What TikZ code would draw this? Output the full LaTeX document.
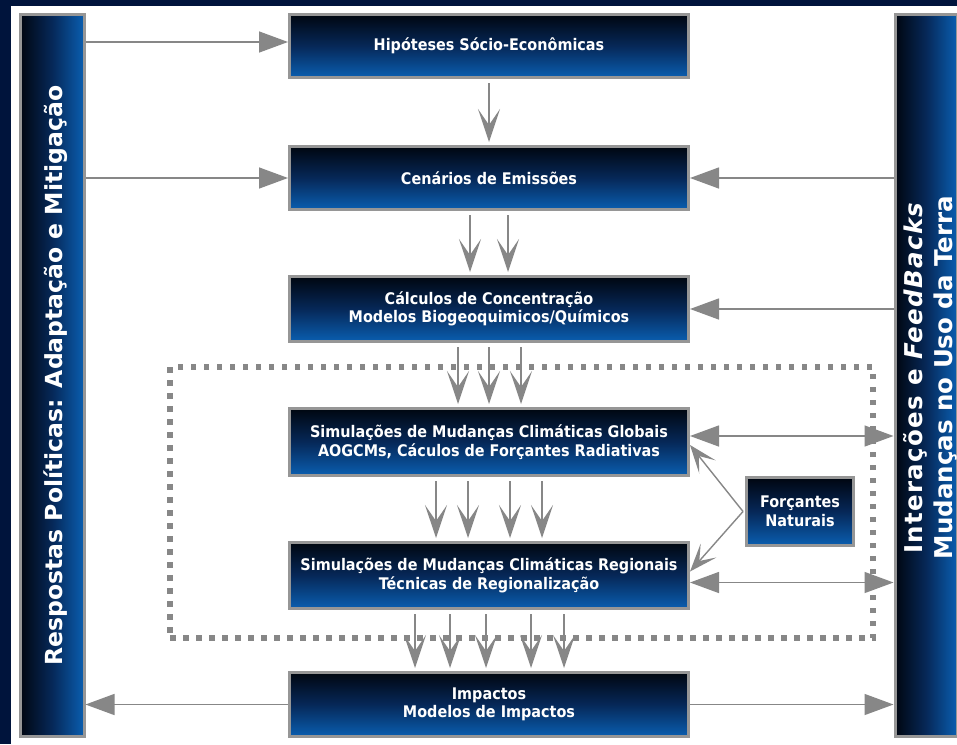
\documentclass[tikz,border=0pt]{standalone}
\usepackage{fontspec}
\setmainfont{DejaVu Sans}
\newfontfamily\boxfont{DejaVu Sans}[FakeStretch=0.9]
\newfontfamily\spacedfont{DejaVu Sans}[LetterSpace=5.5]
\usetikzlibrary{arrows.meta,calc}
\definecolor{navy}{RGB}{0,20,60}
\definecolor{boxtop}{RGB}{0,6,16}
\definecolor{boxmid}{RGB}{6,40,88}
\definecolor{boxbot}{RGB}{10,94,176}
\definecolor{framegray}{RGB}{150,150,150}
\definecolor{arrgray}{RGB}{135,135,135}
\tikzset{
  mbox/.style={draw=framegray, line width=3pt, top color=boxtop, bottom color=boxbot, middle color=boxmid,
    text=white, font=\boxfont\fontsize{16}{18.5}\selectfont\bfseries, align=center, inner sep=0pt,
    minimum width=399},
  vbar/.style={draw=framegray, line width=3pt, left color=boxtop, right color=boxbot, middle color=boxmid,
    inner sep=0pt, minimum height=722},
  bartext/.style={text=white, inner sep=0pt, font=\bfseries},
  dotbox/.style={draw=arrgray, line width=5.5pt, dash pattern=on 5.5pt off 7.5pt},
  harr/.style={draw=arrgray, line width=1.4pt, -{Triangle[length=29pt,width=21pt]}},
  darr/.style={draw=arrgray, line width=1.4pt, {Triangle[length=29pt,width=21pt]}-{Triangle[length=29pt,width=21pt]}},
  varr/.style={draw=arrgray, line width=1.4pt, -{Stealth[length=33pt,width=22pt,inset=16pt]}, shorten <=4pt, shorten >=3pt},
  farr/.style={draw=arrgray, line width=1.4pt, -{Stealth[length=28pt,width=21pt,inset=14pt]}},
}
\begin{document}
\begin{tikzpicture}[x=1pt,y=-1pt]
\useasboundingbox (0,0) rectangle (957,744);
\fill[navy] (0,0) rectangle (957,744);
\fill[white] (11,6) rectangle (957,744);

% dotted frame
\node[dotbox, minimum width=703, minimum height=271] (D) at (521.5,502.5) {};

% side bars
\node[vbar, minimum width=64] (L) at (52,375.5) {};
\node[bartext, font=\fontsize{23.5}{29}\selectfont\bfseries] (Lt) at ([xshift=4pt]L.center)
  {\rotatebox{90}{Respostas Políticas: Adaptação e Mitigação}};
\node[vbar, minimum width=62] (R) at (926,375.5) {};
\node[bartext, font=\fontsize{24.5}{30}\selectfont\bfseries] (Rt) at ([xshift=5pt,yshift=-2pt]R.center)
  {\rotatebox{90}{\begin{tabular}{@{}c@{}}{\spacedfont Interações e \textit{FeedBacks}}\\ Mudanças no Uso da Terra\end{tabular}}};

% main boxes
\node[mbox, minimum height=63] (H) at (489,46) {Hipóteses Sócio-Econômicas};
\node[mbox, minimum height=63] (C) at (489,178) {Cenários de Emissões};
\node[mbox, minimum height=65] (K) at (489,309) {Cálculos de Concentração\\Modelos Biogeoquimicos/Químicos};
\node[mbox, minimum height=67] (G) at (489,442) {Simulações de Mudanças Climáticas Globais\\AOGCMs, Cáculos de Forçantes Radiativas};
\node[mbox, minimum height=66] (Rg) at (489,575.5) {Simulações de Mudanças Climáticas Regionais\\Técnicas de Regionalização};
\node[mbox, minimum height=64] (I) at (489,704.5) {Impactos\\Modelos de Impactos};
\node[mbox, minimum width=107, minimum height=68] (F) at (800,511.5) {Forçantes\\Naturais};

% horizontal connectors
\coordinate (h1) at ([yshift=4pt]H.west);
\draw[harr] (L.east |- h1) -- (h1);
\draw[harr] (L.east |- C.west) -- (C.west);
\draw[harr] (R.west |- C.east) -- (C.east);
\draw[harr] (R.west |- K.east) -- (K.east);
\coordinate (g1) at ([yshift=6pt]G.east);
\draw[darr] (g1) -- (R.west |- g1);
\coordinate (r1) at ([yshift=-7pt]Rg.east);
\draw[darr] (r1) -- (R.west |- r1);
\draw[harr] (I.east) -- (R.west |- I.east);
\draw[harr] (I.west) -- (L.east |- I.west);

% vertical connectors
\draw[varr] (H.south) -- (C.north);
\foreach \dx in {-19,19}
  \draw[varr] ([xshift=\dx pt]C.south) -- ([xshift=\dx pt]K.north);
\foreach \dx in {-31,0,32}
  \draw[varr] ([xshift=\dx pt]K.south) -- ([xshift=\dx pt]G.north);
\foreach \dx in {-53,-21,21,53}
  \draw[varr] ([xshift=\dx pt]G.south) -- ([xshift=\dx pt]Rg.north);
\foreach \dx in {-74,-39,-3,42,75}
  \draw[varr] ([xshift=\dx pt]Rg.south) -- ([xshift=\dx pt]I.north);

% forcings
\coordinate (fs) at ([xshift=-2pt]F.west);
\draw[farr] (fs) -- ([yshift=-3pt]G.east);
\draw[farr] (fs) -- ([yshift=4pt]Rg.east);
\end{tikzpicture}
\end{document}
